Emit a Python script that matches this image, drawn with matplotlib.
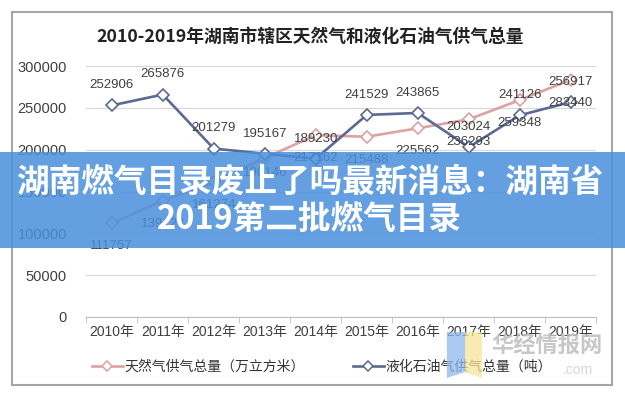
import matplotlib
matplotlib.use("Agg")
import matplotlib.pyplot as plt
from matplotlib.patches import Rectangle, Polygon
from matplotlib.lines import Line2D

plt.rcParams['font.family'] = ['Liberation Sans', 'Noto Sans CJK SC', 'DejaVu Sans']

years = ['2010年', '2011年', '2012年', '2013年', '2014年',
         '2015年', '2016年', '2017年', '2018年', '2019年']
gas = [111757, 139124, 161274, 190146, 217162, 215488, 225562, 236293, 259348, 283440]
lpg = [252906, 265876, 201279, 195167, 189230, 241529, 243865, 203024, 241126, 256917]
gas_name = '天然气供气总量（万立方米）'
lpg_name = '液化石油气供气总量（吨）'
title = '2010-2019年湖南市辖区天然气和液化石油气供气总量'
banner = '湖南燃气目录废止了吗最新消息：湖南省\n2019第二批燃气目录'

pink = '#DCA3A3'
blue = '#5A6A92'
txt = '#404040'

fig = plt.figure(figsize=(6.25, 4), dpi=100)
ax = fig.add_axes([0.138, 0.2075, 0.816, 0.6275])

x = list(range(len(years)))
ax.plot(x, gas, color=pink, lw=1.9, marker='D', ms=6, mfc='white', mec=pink, mew=1.2, zorder=3)
ax.plot(x, lpg, color=blue, lw=1.9, marker='D', ms=6, mfc='white', mec=blue, mew=1.2, zorder=4)

# etiquetas de datos: lpg arriba, gas abajo
for i, v in enumerate(lpg):
    ax.annotate(f'{v}', (i, v), xytext=(0, 14.5), textcoords='offset points',
                ha='center', va='center', fontsize=9.5, color=txt, zorder=5)
for i, v in enumerate(gas):
    dy = -11 if i == 3 else -16.5
    ax.annotate(f'{v}', (i, v), xytext=(0, dy), textcoords='offset points',
                ha='center', va='center', fontsize=9.5, color=txt, zorder=5)

ax.set_xlim(-0.5, len(years) - 0.5)
ax.set_ylim(0, 300000)
ax.set_yticks(range(0, 300001, 50000))
ax.set_yticklabels([str(t) for t in range(0, 300001, 50000)])
ax.set_xticks(x)
ax.set_xticklabels(years)
ax.set_xticks([i - 0.5 for i in range(len(years) + 1)], minor=True)
ax.tick_params(axis='x', which='major', length=0, pad=6, labelsize=10, colors=txt)
ax.tick_params(axis='x', which='minor', length=4, color='#bfbfbf', direction='out')
ax.tick_params(axis='y', length=0, pad=14, labelsize=10.5, colors=txt)
ax.grid(axis='y', color='#d9d9d9', lw=0.9)
ax.set_axisbelow(True)
for s in ['top', 'right', 'left']:
    ax.spines[s].set_visible(False)
ax.spines['bottom'].set_color('#bfbfbf')

fig.text(0.496, 0.908, title, ha='center', va='center', fontsize=12.8,
         fontweight='bold', color='#222222', family=['Noto Sans CJK SC', 'DejaVu Sans'])

handles = [
    Line2D([], [], color=pink, lw=1.9, marker='D', ms=5, mfc='white', mec=pink, mew=1.1),
    Line2D([], [], color=blue, lw=1.9, marker='D', ms=5, mfc='white', mec=blue, mew=1.1),
]
fig.legend(handles, [gas_name, lpg_name], loc='center', ncol=2, frameon=False,
           bbox_to_anchor=(0.515, 0.083), fontsize=10, handlelength=2.2,
           handletextpad=0.1, columnspacing=3.5, labelcolor='#333333')

# marco del grafico
fig.patches.append(Rectangle((0.0192, 0.0375), 0.96, 0.9325, transform=fig.transFigure,
                             fill=False, ec='#a6a6a6', lw=1.5, zorder=1))

# marca de agua
fig.patches.append(Polygon([(0.715, 0.17), (0.744, 0.17), (0.744, 0.07), (0.715, 0.055)],
                           closed=True, transform=fig.transFigure, fc='#8fb8ee', alpha=0.75, zorder=6))
fig.patches.append(Polygon([(0.744, 0.17), (0.771, 0.17), (0.771, 0.055), (0.744, 0.07)],
                           closed=True, transform=fig.transFigure, fc='#f6e39a', alpha=0.75, zorder=6))
fig.text(0.875, 0.137, '华经情报网', ha='center', va='center', fontsize=16, color='#bdbdbd',
         alpha=0.85, fontweight='bold', family=['Noto Sans CJK SC'], zorder=7)
fig.text(0.925, 0.075, '.com', ha='center', va='center', fontsize=10, color='#d0d0d0',
         alpha=0.85, zorder=7)

# banda azul con titular
fig.patches.append(Rectangle((0, 0.38), 1, 0.24, transform=fig.transFigure,
                             fc='#498FDC', alpha=0.85, ec='none', zorder=8))
fig.text(0.495, 0.497, banner, ha='center', va='center', fontsize=23.5, fontweight='bold',
         color='white', linespacing=1.22, family=['Noto Sans CJK SC', 'DejaVu Sans'], zorder=9)

fig.savefig('out.png', dpi=100)
